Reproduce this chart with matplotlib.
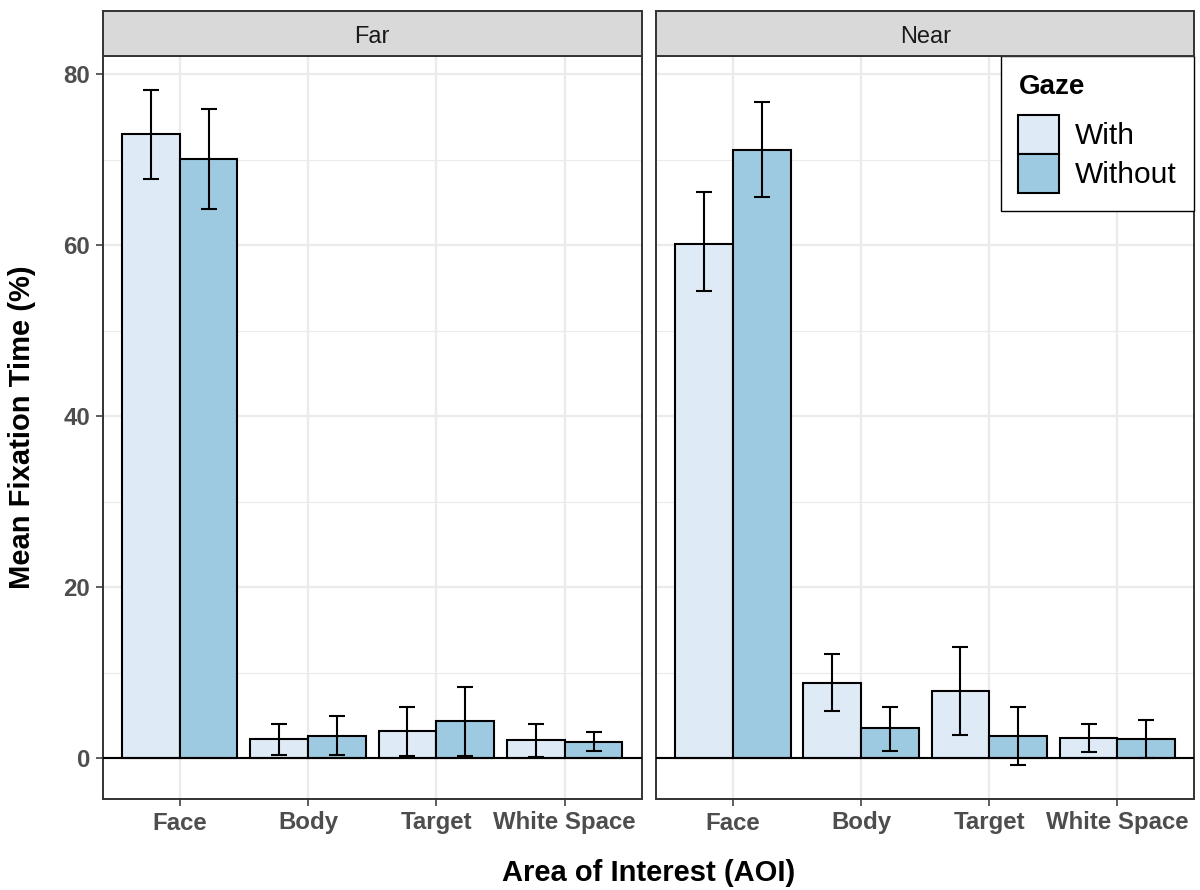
import matplotlib
matplotlib.use("Agg")
import matplotlib.pyplot as plt
import numpy as np
from matplotlib.patches import Patch

plt.rcParams["font.family"] = ["Liberation Sans", "DejaVu Sans"]

# mean fixation time (%) per area of interest, with 95% CI bounds
aoi = ["Face", "Body", "Target", "White Space"]
panels = ["Far", "Near"]
gaze = ["With", "Without"]

far_with = [73.0, 2.2, 3.2, 2.1]
far_with_lo = [67.7, 0.4, 0.3, 0.2]
far_with_hi = [78.2, 4.0, 6.0, 4.0]
far_without = [70.1, 2.6, 4.4, 1.9]
far_without_lo = [64.2, 0.4, 0.3, 0.8]
far_without_hi = [75.9, 4.9, 8.3, 3.1]

near_with = [60.2, 8.8, 7.9, 2.4]
near_with_lo = [54.6, 5.5, 2.7, 0.7]
near_with_hi = [66.2, 12.2, 13.0, 4.0]
near_without = [71.2, 3.5, 2.6, 2.2]
near_without_lo = [65.6, 0.9, -0.8, 0.0]
near_without_hi = [76.8, 6.0, 6.0, 4.5]

fills = {"With": "#DEEBF7", "Without": "#9ECAE1"}

series = {
    "Far": {
        "With": (far_with, far_with_lo, far_with_hi),
        "Without": (far_without, far_without_lo, far_without_hi),
    },
    "Near": {
        "With": (near_with, near_with_lo, near_with_hi),
        "Without": (near_without, near_without_lo, near_without_hi),
    },
}

W, H = 1200, 890
fig = plt.figure(figsize=(W / 100, H / 100), dpi=100)


def px_box(x0, y0, x1, y1):
    # pixel box (top-left origin) -> figure fraction rect
    return [x0 / W, 1 - y1 / H, (x1 - x0) / W, (y1 - y0) / H]


panel_x = {"Far": (102.7, 641.7), "Near": (656.0, 1194.3)}
panel_top, panel_bottom = 56.0, 799.0
strip_top = 10.7

bar_w = 0.45
grid_col = "#EBEBEB"
border_col = "#333333"
tick_col = "#4D4D4D"
x = np.arange(len(aoi))

axes = {}
for name in panels:
    x0, x1 = panel_x[name]
    ax = fig.add_axes(px_box(x0, panel_top, x1, panel_bottom))
    axes[name] = ax

    for i, g in enumerate(gaze):
        vals, lo, hi = series[name][g]
        vals = np.array(vals)
        xpos = x + (i - 0.5) * bar_w
        ax.bar(xpos, vals, width=bar_w, color=fills[g], edgecolor="black",
               linewidth=1.5, zorder=2)
        yerr = [vals - np.array(lo), np.array(hi) - vals]
        ax.errorbar(xpos, vals, yerr=yerr, fmt="none", ecolor="black",
                    elinewidth=1.5, capsize=5.5, capthick=1.5, zorder=4)

    ax.axhline(0, color="black", linewidth=1.5, zorder=3)

    ax.set_xlim(-0.6, 3.6)
    ax.set_ylim(-4.76, 82.14)
    ax.set_xticks(x)
    ax.set_xticklabels(aoi)
    ax.set_yticks([0, 20, 40, 60, 80])
    ax.set_yticks([10, 30, 50, 70], minor=True)
    ax.set_axisbelow(True)
    ax.grid(which="major", color=grid_col, linewidth=1.6)
    ax.grid(which="minor", axis="y", color=grid_col, linewidth=0.8)
    ax.tick_params(which="minor", length=0)
    ax.tick_params(which="major", length=5, width=1.1, color=border_col,
                   labelsize=17.3, labelcolor=tick_col, pad=4)
    for lab in ax.get_xticklabels() + ax.get_yticklabels():
        lab.set_fontweight("bold")
    for sp in ax.spines.values():
        sp.set_color(border_col)
        sp.set_linewidth(1.4)

    # facet strip
    sax = fig.add_axes(px_box(x0, strip_top, x1, panel_top))
    sax.set_facecolor("#D9D9D9")
    sax.set_xticks([])
    sax.set_yticks([])
    for sp in sax.spines.values():
        sp.set_color(border_col)
        sp.set_linewidth(1.4)
    sax.text(0.5, 0.47, name, ha="center", va="center_baseline", fontsize=17,
             color="#1A1A1A", transform=sax.transAxes)

axes["Near"].tick_params(axis="y", left=False, labelleft=False)

handles = [Patch(facecolor=fills[g], edgecolor="black", linewidth=1.5, label=g)
           for g in gaze]
leg = axes["Near"].legend(handles=handles, title="Gaze", loc="upper right",
                          bbox_to_anchor=(1.0, 1.0), borderaxespad=0,
                          fontsize=21.5, title_fontproperties={"weight": "bold", "size": 20},
                          handlelength=1.36, handleheight=1.63, labelspacing=0.0,
                          handletextpad=0.52, borderpad=0.6, fancybox=False,
                          framealpha=1, edgecolor="black", alignment="left")
leg.get_frame().set_linewidth(1.0)
leg._legend_box.sep = 11
leg.set_zorder(10)

fig.text((102.7 + 1194.3) / 2 / W, 1 - 873 / H, "Area of Interest (AOI)",
         ha="center", va="center", fontsize=21, fontweight="bold")
fig.text(22 / W, 1 - (panel_top + panel_bottom) / 2 / H, "Mean Fixation Time (%)",
         ha="center", va="center", rotation=90, fontsize=21, fontweight="bold")

fig.savefig("out.png", dpi=100, facecolor="white")
